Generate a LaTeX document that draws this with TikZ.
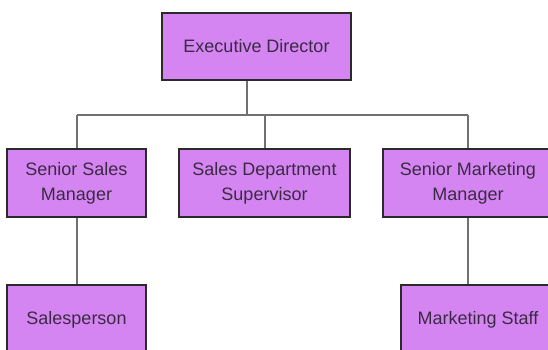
\documentclass[tikz,border=0pt]{standalone}
\usepackage{fontspec}
\setmainfont{Liberation Sans}
\definecolor{boxfill}{HTML}{D585F2}
\definecolor{boxline}{HTML}{2A2A2A}
\definecolor{linkgray}{HTML}{707070}
\definecolor{txt}{HTML}{3A2A44}
\begin{document}
\begin{tikzpicture}[x=1pt,y=-1pt,
  role/.style={draw=boxline, line width=1.3pt, fill=boxfill, text=txt,
    font=\fontsize{18}{25}\selectfont, align=center, inner sep=0pt},
  link/.style={draw=linkgray, line width=2pt}]
\useasboundingbox (0,0) rectangle (548,349);
\clip (0,0) rectangle (548,349);
\node[role, minimum width=189pt, minimum height=67pt] (ed) at (256.5,46.5) {Executive Director};
\node[role, minimum width=139pt, minimum height=68pt] (ssm) at (76.5,183) {Senior Sales\\Manager};
\node[role, minimum width=171pt, minimum height=68pt] (sds) at (264.5,183) {Sales Department\\Supervisor};
\node[role, minimum width=170pt, minimum height=68pt] (smm) at (468,183) {Senior Marketing\\Manager};
\node[role, minimum width=139pt, minimum height=70pt] (sp) at (76.5,320) {Salesperson};
\node[role, minimum width=154pt, minimum height=70pt] (ms) at (478,320) {Marketing Staff};
\coordinate (bus) at (247,115);
\draw[link] (ed.south -| bus) -- (bus);
\draw[link] (ssm.north |- bus) -- (smm.north |- bus);
\draw[link] (ssm.north |- bus) -- (ssm.north);
\draw[link] (sds.north |- bus) -- (sds.north);
\draw[link] (smm.north |- bus) -- (smm.north);
\draw[link] (ssm.south) -- (ssm.south |- sp.north);
\draw[link] (smm.south) -- (smm.south |- ms.north);
\end{tikzpicture}
\end{document}
